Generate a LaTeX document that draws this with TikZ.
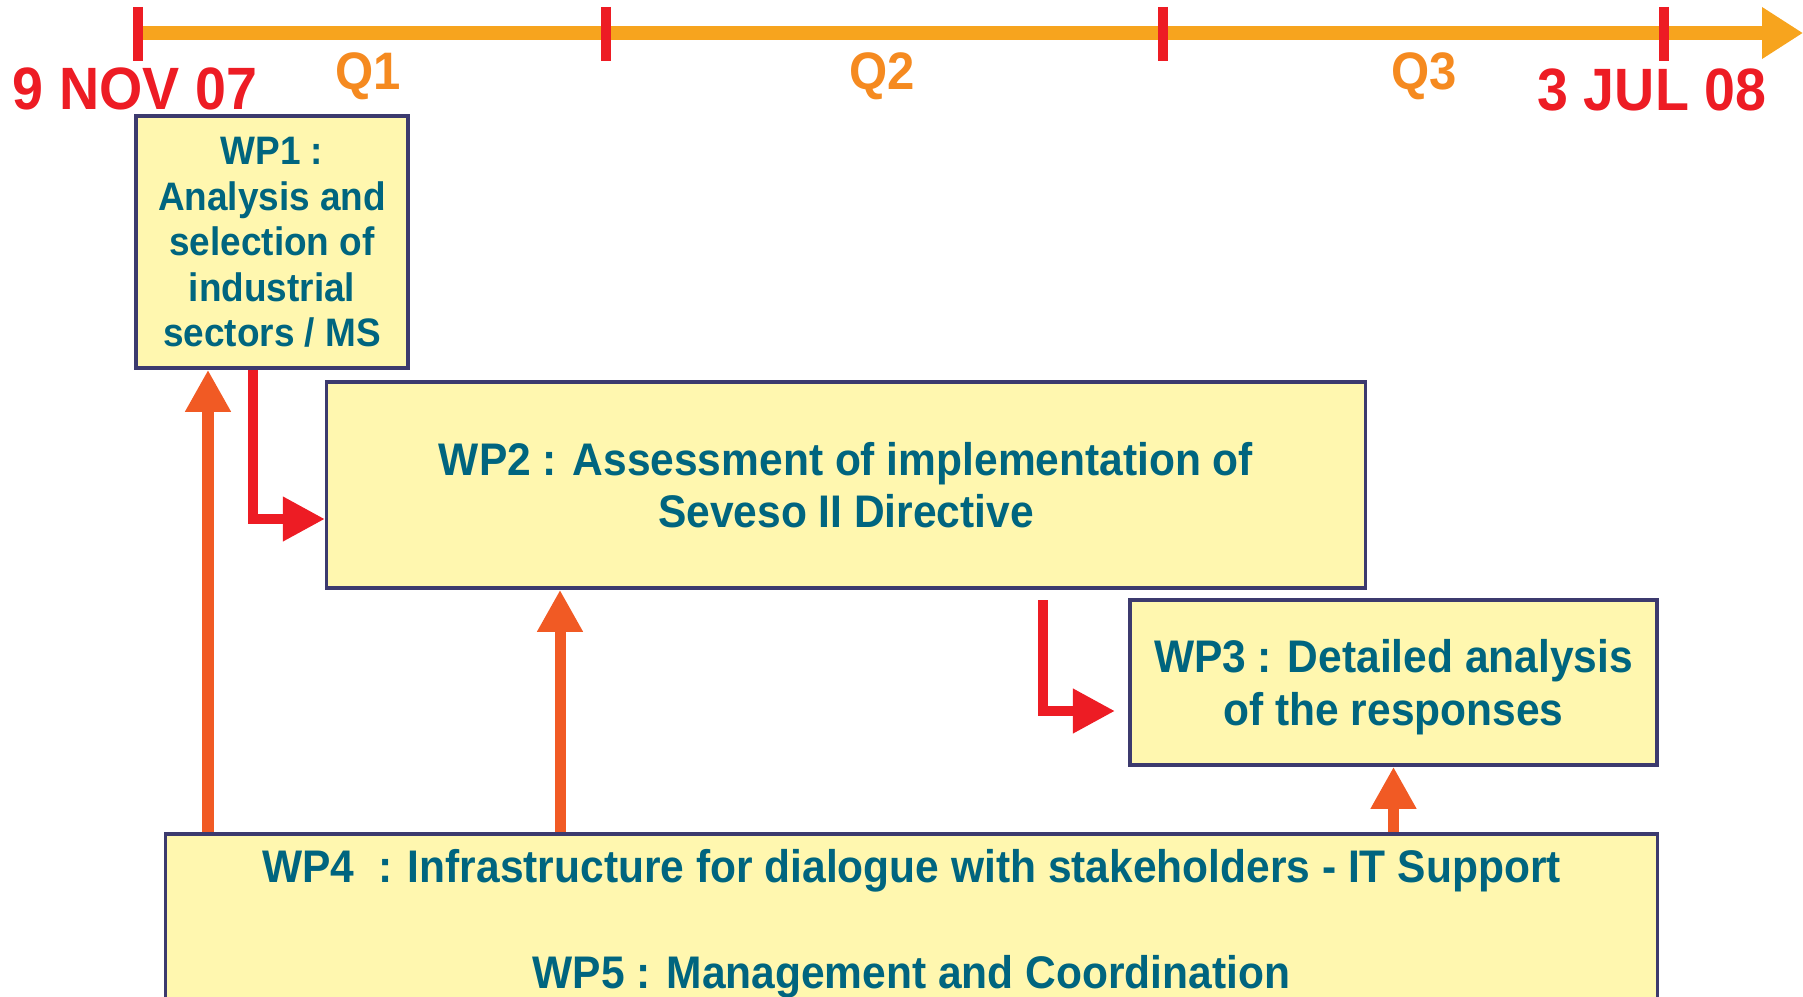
\documentclass[tikz,border=0pt]{standalone}
\usepackage{fontspec}
\setmainfont{Liberation Sans}[FakeStretch=0.93]
\usetikzlibrary{arrows.meta}
\definecolor{wpfill}{HTML}{FFF7AF}
\definecolor{wpline}{HTML}{3C3A6E}
\definecolor{wptext}{HTML}{00657F}
\definecolor{axisorange}{HTML}{F7A41E}
\definecolor{qorange}{HTML}{F58A20}
\definecolor{linkorange}{HTML}{F15A24}
\definecolor{datered}{HTML}{ED1C24}
\tikzset{
  wp/.style={draw=wpline, line width=1pt, fill=wpfill, text=wptext, align=center, inner sep=0pt,
    text depth=0pt, font=\fontsize{13}{15}\selectfont\bfseries},
  support/.style={draw=linkorange, line width=0.11cm, -{Triangle[length=0.42cm,width=0.43cm]}},
  flow/.style={draw=datered, line width=0.1cm, -{Triangle[length=0.42cm,width=0.42cm]}},
  axis/.style={draw=axisorange, line width=0.13cm, -{Triangle[length=0.41cm,width=0.49cm]}},
  tick/.style={draw=datered, line width=0.1cm},
  date/.style={text=datered, font=\fontsize{17}{17}\selectfont\bfseries},
  quarter/.style={text=qorange, font=\fontsize{15}{15}\selectfont\bfseries}
}
\begin{document}
\begin{tikzpicture}[x=0.01cm,y=-0.01cm]
                        \useasboundingbox (0,0) rectangle (1803,997);
                        \draw[axis] (138,33) coordinate (t0) -- (1803,33) coordinate (t1);
                        \foreach \x in {138,606,1163,1664}
                            \draw[tick] (\x,7) -- (\x,61);
                        \node[date] (start) at (135,89) {9 NOV 07};
                        \node[date] (finish) at (1652,90) {3 JUL 08};
                        \node[quarter] (q1) at (368,76) {Q1};
                        \node[quarter] (q2) at (882,76) {Q2};
                        \node[quarter] (q3) at (1424,76) {Q3};
                        \node[wp, minimum width=2.72cm, minimum height=2.52cm,
                            font=\fontsize{11.3}{12.9}\selectfont\bfseries] (wp1) at (272,242)
                            {WP1 :\\ Analysis and\\ selection of\\ industrial\\ sectors / MS};
                        \node[wp, minimum width=10.38cm, minimum height=2.06cm] (wp2) at (846,485)
                            {WP2 : Assessment of implementation of\\ Seveso II Directive};
                        \node[wp, minimum width=5.27cm, minimum height=1.65cm] (wp3) at (1393.5,682.5)
                            {WP3 : Detailed analysis\\ of the responses};
                        \node[wp, minimum width=14.91cm, minimum height=1.7cm] (wp4) at (911.5,919)
                            {WP4~~: Infrastructure for dialogue with stakeholders - IT Support\\[15pt]
                             WP5 : Management and Coordination};
                        \coordinate (s1) at (208,0);
                        \coordinate (s2) at (560,0);
                        \draw[support] (wp4.north -| s1) -- (wp1.south -| s1);
                        \draw[support] (wp4.north -| s2) -- (wp2.south -| s2);
                        \draw[support] (wp4.north -| wp3.south) -- (wp3.south);
                        \coordinate (f1) at (253,519);
                        \draw[flow] (wp1.south -| f1) |- (wp2.west |- f1);
                        \coordinate (f2a) at (1043,600);
                        \coordinate (f2b) at (1115,711);
                        \draw[flow] (f2a) |- (f2b);
                    \end{tikzpicture}
\end{document}
